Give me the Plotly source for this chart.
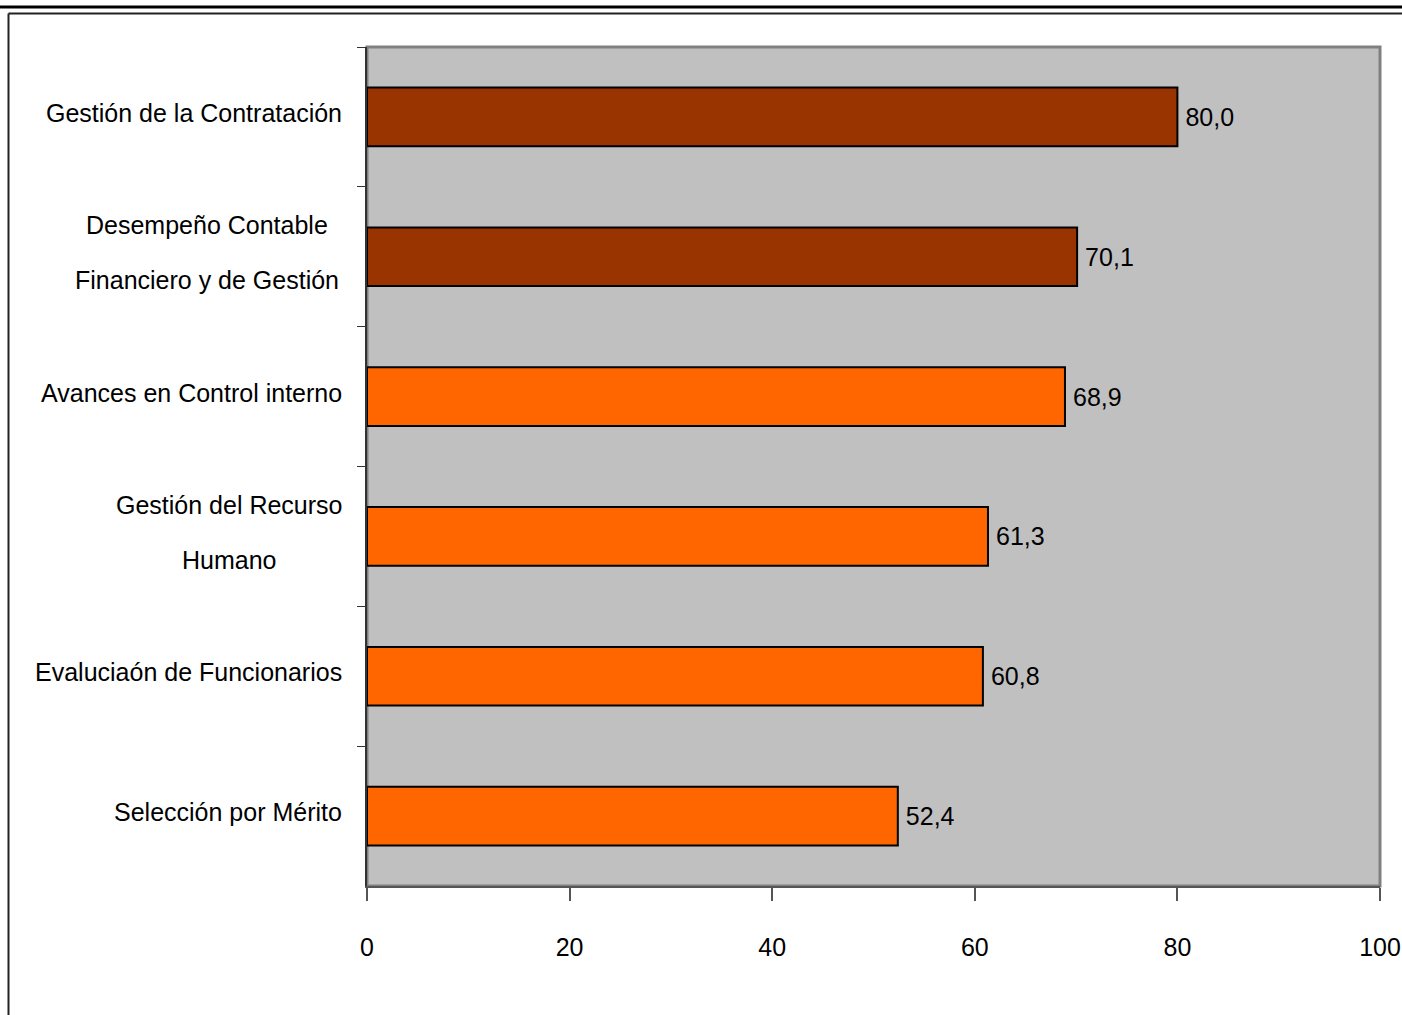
import plotly.graph_objects as go

categories = [
    "Gestión de la Contratación",
    "Desempeño Contable Financiero y de Gestión",
    "Avances en Control interno",
    "Gestión del Recurso Humano",
    "Evaluciaón de Funcionarios",
    "Selección por Mérito",
]
label_lines = [
    ["Gestión de la Contratación"],
    ["Desempeño Contable", "Financiero y de Gestión"],
    ["Avances en Control interno"],
    ["Gestión del Recurso", "Humano"],
    ["Evaluciaón de Funcionarios"],
    ["Selección por Mérito"],
]
values = [80.0, 70.1, 68.9, 61.3, 60.8, 52.4]
bar_colors = ["#993300", "#993300", "#FF6600", "#FF6600", "#FF6600", "#FF6600"]
x_ticks = [0, 20, 40, 60, 80, 100]

W, H = 1402, 1015
ml, mr, mt, mb = 367, 22, 47, 129
pw, ph = W - ml - mr, H - mt - mb

FONT = "Liberation Sans, Arial, sans-serif"
FS = 25

fig = go.Figure(
    go.Bar(
        x=values,
        y=categories,
        orientation="h",
        width=0.42,
        marker=dict(color=bar_colors, line=dict(color="black", width=2)),
        texttemplate="\u2009%{x:.1f}",
        textposition="outside",
        cliponaxis=False,
        textfont=dict(family=FONT, size=FS, color="black"),
    )
)

def px_x(p):
    return (p - ml) / pw

def px_y(p):
    return (mt + ph - p) / ph

shapes = [
    dict(type="rect", xref="paper", yref="paper", x0=0, x1=1, y0=0, y1=1,
         line=dict(color="#808080", width=3), layer="below"),
    dict(type="line", xref="paper", yref="paper", x0=px_x(0), x1=px_x(W),
         y0=px_y(7), y1=px_y(7), line=dict(color="black", width=3)),
    dict(type="line", xref="paper", yref="paper", x0=px_x(8.5), x1=px_x(W),
         y0=px_y(13.5), y1=px_y(13.5), line=dict(color="#222222", width=2)),
    dict(type="line", xref="paper", yref="paper", x0=px_x(8.5), x1=px_x(8.5),
         y0=px_y(13.5), y1=px_y(H), line=dict(color="#222222", width=2)),
]

# category labels as annotations (allows the wide line spacing of the original)
annotations = []
label_right = px_x(344)
block_centers = {1: px_x(207), 3: px_x(229)}
line_gap = 55
base_shift = 4
for idx, (cat, lines) in enumerate(zip(categories, label_lines)):
    if len(lines) == 1:
        annotations.append(dict(
            xref="paper", yref="y", x=label_right, y=cat, text=lines[0],
            xanchor="right", yanchor="middle", showarrow=False,
            yshift=base_shift,
            font=dict(family=FONT, size=FS, color="black")))
    else:
        n = len(lines)
        for i, ln in enumerate(lines):
            annotations.append(dict(
                xref="paper", yref="y", x=block_centers[idx], y=cat, text=ln,
                xanchor="center", yanchor="middle", showarrow=False,
                yshift=((n - 1) / 2 - i) * line_gap + base_shift,
                font=dict(family=FONT, size=FS, color="black")))

fig.update_layout(
    width=W, height=H,
    margin=dict(l=ml, r=mr, t=mt, b=mb),
    paper_bgcolor="white",
    plot_bgcolor="#C0C0C0",
    separators=",.",
    showlegend=False,
    shapes=shapes,
    annotations=annotations,
    font=dict(family=FONT, size=FS, color="black"),
)
fig.update_xaxes(
    range=[0, 100],
    tickvals=x_ticks,
    ticktext=[str(t) for t in x_ticks],
    ticks="outside", ticklen=13, tickwidth=2, tickcolor="#555555",
    showgrid=False, zeroline=False,
    showline=True, linecolor="#555555", linewidth=2,
    tickfont=dict(family=FONT, size=FS, color="black"),
    ticklabelstandoff=25,
    ticklabeloverflow="allow",
    automargin=False,
)
fig.update_yaxes(
    categoryorder="array", categoryarray=categories,
    autorange="reversed",
    tickson="boundaries",
    ticks="outside", ticklen=8, tickwidth=1, tickcolor="#333333",
    showticklabels=False,
    showgrid=False, zeroline=False,
    showline=True, linecolor="#333333", linewidth=2,
    automargin=False,
)

fig.write_html(
    "out.html",
    config={"displayModeBar": False},
    post_script="document.body.style.margin='0';document.body.style.overflow='hidden';",
)
